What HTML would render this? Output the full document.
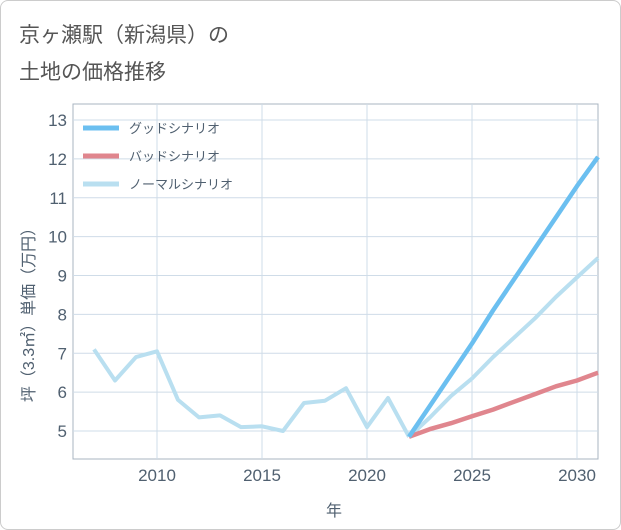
<!DOCTYPE html>
<html><head><meta charset="utf-8"><style>
body{margin:0;background:#fff;}
#wrap{position:relative;width:619px;height:528px;border:1px solid #ccc;border-radius:8px;background:#fff;overflow:hidden;}
svg text{font-family:"Liberation Sans","Noto Sans CJK JP",sans-serif;}
</style></head><body>
<div id="wrap">
<svg id="chart" width="621" height="530"></svg>
</div>
<script>
const years=[2007,2008,2009,2010,2011,2012,2013,2014,2015,2016,2017,2018,2019,2020,2021,2022];
const history=[7.1,6.3,6.9,7.05,5.8,5.35,5.4,5.1,5.12,5.0,5.72,5.78,6.1,5.1,5.85,4.85];
const futureYears=[2022,2023,2024,2025,2026,2027,2028,2029,2030,2031];
const goodSeries=[4.85,5.65,6.45,7.25,8.1,8.9,9.7,10.5,11.3,12.05];
const badSeries=[4.85,5.05,5.2,5.38,5.55,5.75,5.95,6.15,6.3,6.5];
const normalSeries=[4.85,5.35,5.9,6.35,6.9,7.4,7.9,8.45,8.95,9.45];
const yTicks=[5,6,7,8,9,10,11,12,13];
const xTicks=[2010,2015,2020,2025,2030];
const NS='http://www.w3.org/2000/svg';
const svg=document.getElementById('chart');
const L=72,R=597,T=103,B=458;
const TC='#506070';
const xs=y=>156+(y-2010)*21;
const ys=v=>430-(v-5)*38.875;
function el(tag,attrs,parent){const e=document.createElementNS(NS,tag);for(const k in attrs)e.setAttribute(k,attrs[k]);(parent||svg).appendChild(e);return e;}
function txt(s,x,y,attrs,name){const t=el('text',Object.assign({x:x,y:y},attrs));t.textContent=s;return t;}
txt('京ヶ瀬駅（新潟県）の',18,41,{'font-size':21,fill:'#555'},'chart-title-line1');
txt('土地の価格推移',18,78,{'font-size':21,fill:'#555'},'chart-title-line2');
const bg=el('rect',{x:L,y:T,width:R-L,height:B-T,fill:'#fff',stroke:'#a8b4c0','stroke-width':1});

yTicks.forEach(v=>{const g=el('line',{x1:L,x2:R,y1:ys(v),y2:ys(v),stroke:'#cfdce8','stroke-width':1});

txt(String(v),66,ys(v)+6,{'font-size':17,fill:TC,'text-anchor':'end'},'y-tick-label');});
xTicks.forEach(v=>{const g=el('line',{x1:xs(v),x2:xs(v),y1:T,y2:B,stroke:'#cfdce8','stroke-width':1});

txt(String(v),xs(v),480,{'font-size':17,fill:TC,'text-anchor':'middle'},'x-tick-label');});
txt('年',333,515,{'font-size':16,fill:TC,'text-anchor':'middle'},'x-axis-title');
txt('坪（3.3㎡）単価（万円）',0,0,{'font-size':16,fill:TC,'text-anchor':'middle',transform:'translate(33,310) rotate(-90)'},'y-axis-title');
function line(xsArr,vals,color,w,name){const d=vals.map((v,i)=>(i?'L':'M')+xs(xsArr[i]).toFixed(1)+','+ys(v).toFixed(1)).join(' ');
const p=el('path',{d:d,fill:'none',stroke:color,'stroke-width':w,'stroke-linejoin':'round'});
}
line(years,history,'#b9dff0',4,'history-line');
line(futureYears,normalSeries,'#b9dff0',4,'normal-scenario-line');
line(futureYears,badSeries,'#e0868e',4.5,'bad-scenario-line');
line(futureYears,goodSeries,'#6bbff0',4.5,'good-scenario-line');
const leg=[['グッドシナリオ','#6bbff0'],['バッドシナリオ','#e0868e'],['ノーマルシナリオ','#b9dff0']];
leg.forEach((e,i)=>{const y=127+i*28;
const l=el('line',{x1:82,x2:118,y1:y,y2:y,stroke:e[1],'stroke-width':5});

txt(e[0],128,y+5,{'font-size':13,fill:TC},'legend-entry');});
</script>
</body></html>
